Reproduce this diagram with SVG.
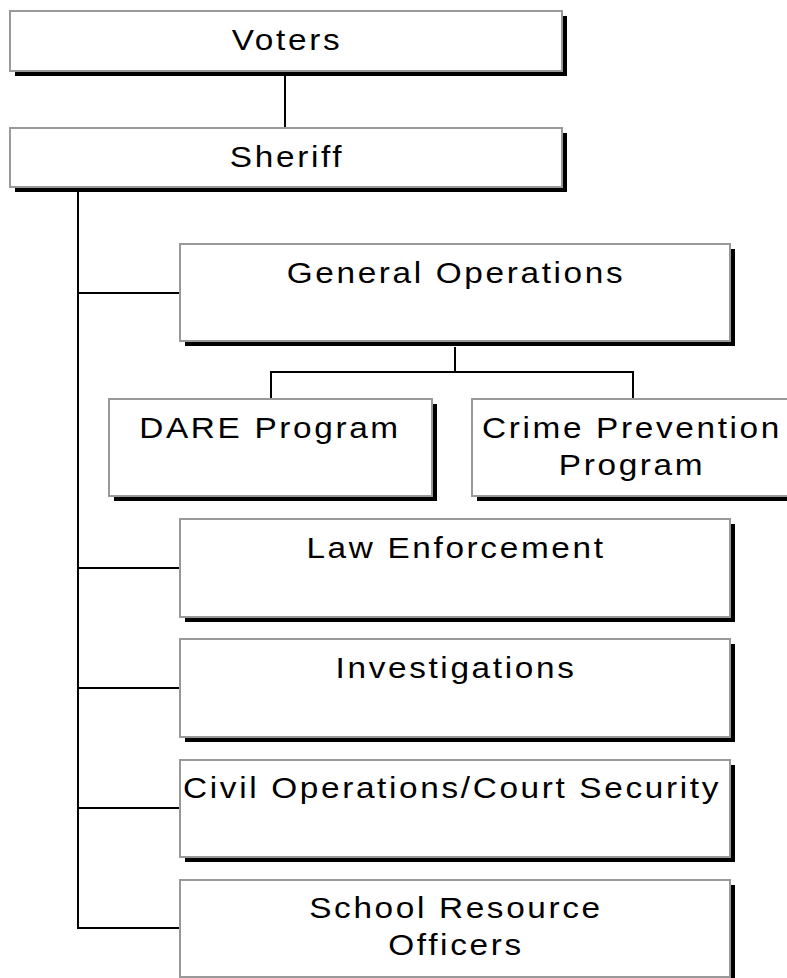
<svg xmlns="http://www.w3.org/2000/svg" width="787" height="978" viewBox="0 0 787 978">
<style>
.sh{fill:#000}
.bx{fill:#fff;stroke:#999;stroke-width:2}
.t{font-family:"Liberation Sans",Arial,sans-serif;font-size:29px;letter-spacing:2.3px;fill:#000;text-anchor:middle}
.c{fill:none;stroke:#000;stroke-width:2}
</style>
<rect width="787" height="978" fill="#fff"/>
<g id="connectors">
<line class="c" x1="285" y1="72" x2="285" y2="128"/>
<polyline class="c" points="78,192 78,928 180,928"/>
<line class="c" x1="78" y1="293" x2="180" y2="293"/>
<line class="c" x1="78" y1="568" x2="180" y2="568"/>
<line class="c" x1="78" y1="688" x2="180" y2="688"/>
<line class="c" x1="78" y1="808" x2="180" y2="808"/>
<polyline class="c" points="455,347 455,372"/>
<polyline class="c" points="271,399 271,372 633,372 633,399"/>
</g>
<g id="voters">
<rect class="sh" x="15" y="16" width="552" height="60"/>
<rect class="bx" x="10" y="11" width="552" height="60"/>
<text class="t" transform="matrix(1.15 0 0 1 287 50)">Voters</text>
</g>
<g id="sheriff">
<rect class="sh" x="15" y="133" width="552" height="59"/>
<rect class="bx" x="10" y="128" width="552" height="59"/>
<text class="t" transform="matrix(1.15 0 0 1 287 167)">Sheriff</text>
</g>
<g id="general-operations">
<rect class="sh" x="185" y="249" width="550" height="97"/>
<rect class="bx" x="180" y="244" width="550" height="97"/>
<text class="t" transform="matrix(1.15 0 0 1 456 283)">General Operations</text>
</g>
<g id="dare">
<rect class="sh" x="114" y="404" width="323" height="97"/>
<rect class="bx" x="109" y="399" width="323" height="97"/>
<text class="t" transform="matrix(1.15 0 0 1 270 438)">DARE Program</text>
</g>
<g id="crime-prevention">
<rect class="sh" x="477" y="404" width="322" height="97"/>
<rect class="bx" x="472" y="399" width="322" height="97"/>
<text class="t" transform="matrix(1.15 0 0 1 632 438)">Crime Prevention</text>
<text class="t" transform="matrix(1.15 0 0 1 632 475)">Program</text>
</g>
<g id="law-enforcement">
<rect class="sh" x="185" y="524" width="550" height="98"/>
<rect class="bx" x="180" y="519" width="550" height="98"/>
<text class="t" transform="matrix(1.15 0 0 1 456 558)">Law Enforcement</text>
</g>
<g id="investigations">
<rect class="sh" x="185" y="644" width="550" height="98"/>
<rect class="bx" x="180" y="639" width="550" height="98"/>
<text class="t" transform="matrix(1.15 0 0 1 456 678)">Investigations</text>
</g>
<g id="civil-operations">
<rect class="sh" x="185" y="765" width="550" height="97"/>
<rect class="bx" x="180" y="760" width="550" height="97"/>
<text class="t" transform="matrix(1.15 0 0 1 452 798)">Civil Operations/Court Security</text>
</g>
<g id="school-resource">
<rect class="sh" x="185" y="885" width="550" height="97"/>
<rect class="bx" x="180" y="880" width="550" height="97"/>
<text class="t" transform="matrix(1.15 0 0 1 456 918)">School Resource</text>
<text class="t" transform="matrix(1.15 0 0 1 456 955)">Officers</text>
</g>
</svg>
